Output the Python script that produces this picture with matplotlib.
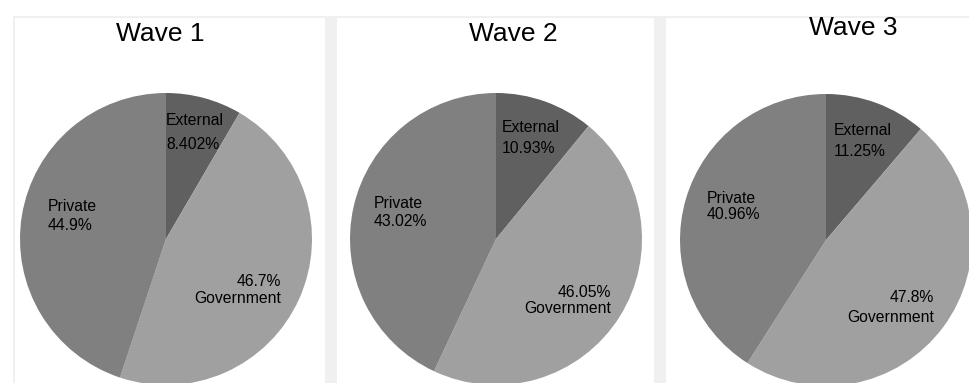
import matplotlib
matplotlib.use("Agg")
import matplotlib.pyplot as plt
from matplotlib.patches import Rectangle

plt.rcParams['font.family'] = ['Liberation Sans', 'DejaVu Sans']

# data
waves = ['Wave 1', 'Wave 2', 'Wave 3']
categories = ['External', 'Government', 'Private']
external = [8.402, 10.93, 11.25]
government = [46.7, 46.05, 47.8]
private = [44.9, 43.02, 40.96]
colors = ['#606060', '#a0a0a0', '#808080']

W, H = 970, 383
fig = plt.figure(figsize=(W / 100, H / 100), dpi=100)
fig.patch.set_facecolor('white')

# panel frame (light grey)
def prect(x, y, w, h):
    fig.patches.append(Rectangle((x / W, 1 - (y + h) / H), w / W, h / H,
                                 transform=fig.transFigure, facecolor='#f0f0f0',
                                 edgecolor='none', zorder=0))

prect(13, 16, W - 13, 2)
prect(13, 16, 2, H - 16)
prect(325, 16, 12, H - 16)
prect(654, 16, 12, H - 16)

# pie centres / radius in pixels
centers = [(166, 239), (496, 239), (826, 240)]
R = 146
title_pos = [(160, 34), (513, 34), (853, 28)]

# label positions in pie units
ext_pos = [(0.0, 0.73), (0.04, 0.69), (0.05, 0.68)]
priv_pos = [(-0.81, 0.16), (-0.84, 0.18), (-0.82, 0.23)]
gov_pos = [(0.79, -0.35), (0.79, -0.42), (0.74, -0.46)]
ext_ls = [1.75, 1.48, 1.48]
priv_ls = [1.33, 1.26, 1.12]
gov_ls = [1.12, 1.12, 1.4]

def fmt(v):
    return f'{v:g}%'

for i in range(3):
    cx, cy = centers[i]
    ax = fig.add_axes([(cx - R) / W, (H - cy - R) / H, 2 * R / W, 2 * R / H])
    vals = [external[i], government[i], private[i]]
    ax.pie(vals, colors=colors, startangle=90, counterclock=False,
           wedgeprops=dict(linewidth=0))
    ax.set_xlim(-1, 1)
    ax.set_ylim(-1, 1)
    ax.set_aspect('equal')
    ax.axis('off')

    ax.text(ext_pos[i][0], ext_pos[i][1], 'External\n' + fmt(external[i]),
            ha='left', va='center', fontsize=11.3, linespacing=ext_ls[i])
    ax.text(priv_pos[i][0], priv_pos[i][1], 'Private\n' + fmt(private[i]),
            ha='left', va='center', fontsize=11.3, linespacing=priv_ls[i])
    ax.text(gov_pos[i][0], gov_pos[i][1], fmt(government[i]) + '\nGovernment',
            ha='right', va='center', fontsize=11.3, multialignment='right',
            linespacing=gov_ls[i])

    tx, ty = title_pos[i]
    fig.text(tx / W, 1 - ty / H, waves[i], ha='center', va='center', fontsize=19)

fig.savefig('out.png', dpi=100, facecolor='white')
